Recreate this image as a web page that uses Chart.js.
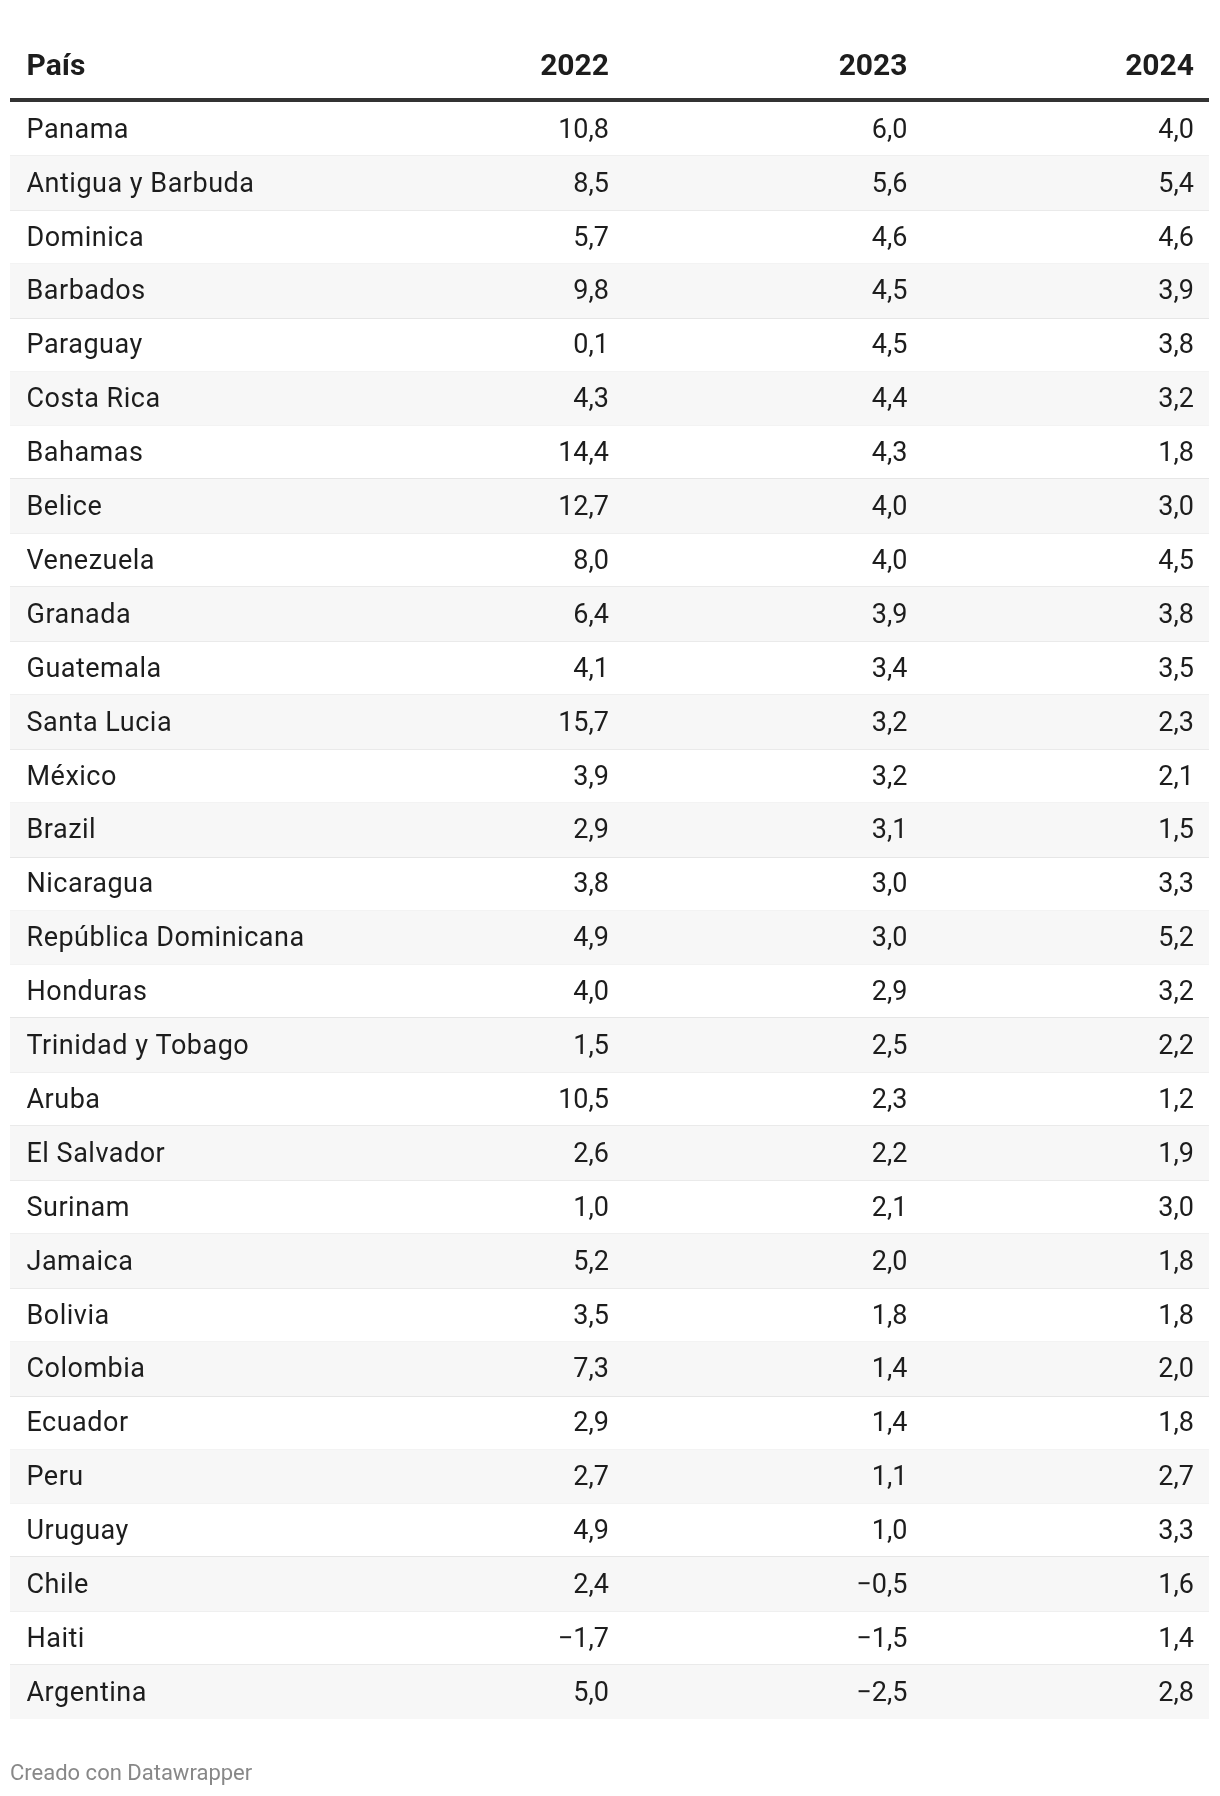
<!DOCTYPE html>
<html>
<head>
<meta charset="utf-8">
<script src="https://cdn.jsdelivr.net/npm/chart.js@4/dist/chart.umd.min.js"></script>
<style>
  html, body { margin: 0; padding: 0; background: #ffffff; }
  #wrap { position: relative; width: 1220px; height: 1796px; }
</style>
</head>
<body>
<div id="wrap"><canvas id="c" width="1220" height="1796"></canvas></div>
<script>
const countries = [
  "Panama", "Antigua y Barbuda", "Dominica", "Barbados", "Paraguay", "Costa Rica",
  "Bahamas", "Belice", "Venezuela", "Granada", "Guatemala", "Santa Lucia",
  "México", "Brazil", "Nicaragua", "República Dominicana", "Honduras",
  "Trinidad y Tobago", "Aruba", "El Salvador", "Surinam", "Jamaica", "Bolivia",
  "Colombia", "Ecuador", "Peru", "Uruguay", "Chile", "Haiti", "Argentina"
];
const years = ["2022", "2023", "2024"];
const firstColumnLabel = "País";
const values2022 = [10.8, 8.5, 5.7, 9.8, 0.1, 4.3, 14.4, 12.7, 8.0, 6.4, 4.1, 15.7, 3.9, 2.9, 3.8, 4.9, 4.0, 1.5, 10.5, 2.6, 1.0, 5.2, 3.5, 7.3, 2.9, 2.7, 4.9, 2.4, -1.7, 5.0];
const values2023 = [6.0, 5.6, 4.6, 4.5, 4.5, 4.4, 4.3, 4.0, 4.0, 3.9, 3.4, 3.2, 3.2, 3.1, 3.0, 3.0, 2.9, 2.5, 2.3, 2.2, 2.1, 2.0, 1.8, 1.4, 1.4, 1.1, 1.0, -0.5, -1.5, -2.5];
const values2024 = [4.0, 5.4, 4.6, 3.9, 3.8, 3.2, 1.8, 3.0, 4.5, 3.8, 3.5, 2.3, 2.1, 1.5, 3.3, 5.2, 3.2, 2.2, 1.2, 1.9, 3.0, 1.8, 1.8, 2.0, 1.8, 2.7, 3.3, 1.6, 1.4, 2.8];
const footerText = "Creado con Datawrapper";

// layout (pixel-equivalent units of the hidden linear x scale)
const TABLE_LEFT = 10, TABLE_RIGHT = 1209;
const COL_TEXT_X = 26.5;
const COL_RIGHT_X = [609, 907.5, 1194];
const FONT = "Roboto, 'Noto Sans', sans-serif";
const valueColumns = [values2022, values2023, values2024];

function fmt(v) {
  return v.toFixed(1).replace('.', ',').replace('-', '\u2212');
}

const tablePlugin = {
  id: 'tableText',
  afterDraw(chart) {
    const ctx = chart.ctx;
    const x = chart.scales.x, y = chart.scales.y;
    ctx.save();
    // header
    ctx.fillStyle = '#1d1d1d';
    ctx.font = "bold 30px " + FONT;
    ctx.textBaseline = 'alphabetic';
    ctx.textAlign = 'left';
    ctx.fillText(firstColumnLabel, x.getPixelForValue(COL_TEXT_X), 74.5);
    ctx.textAlign = 'right';
    years.forEach((yr, j) => ctx.fillText(yr, x.getPixelForValue(COL_RIGHT_X[j]), 74.5));
    // thick header rule
    ctx.fillStyle = '#333333';
    ctx.fillRect(x.getPixelForValue(TABLE_LEFT), y.top - 4, x.getPixelForValue(TABLE_RIGHT) - x.getPixelForValue(TABLE_LEFT), 4);
    // body
    ctx.fillStyle = '#1d1d1d';
    ctx.font = "27px " + FONT;
    countries.forEach((c, i) => {
      const py = y.getPixelForValue(i) + 8.8;
      ctx.textAlign = 'left';
      if ('letterSpacing' in ctx) ctx.letterSpacing = '0.5px';
      ctx.fillText(c, x.getPixelForValue(COL_TEXT_X), py);
      if ('letterSpacing' in ctx) ctx.letterSpacing = '0px';
      ctx.textAlign = 'right';
      valueColumns.forEach((col, j) => ctx.fillText(fmt(col[i]), x.getPixelForValue(COL_RIGHT_X[j]), py));
    });
    // footer
    ctx.fillStyle = '#888888';
    ctx.font = "22px " + FONT;
    ctx.textAlign = 'left';
    ctx.fillText(footerText, 10, 1779.5);
    ctx.restore();
  }
};

new Chart(document.getElementById('c'), {
  type: 'bar',
  data: {
    labels: countries,
    datasets: [{
      label: 'stripes',
      data: countries.map((c, i) => (i % 2 === 1 ? [TABLE_LEFT, TABLE_RIGHT] : null)),
      backgroundColor: '#f7f7f7',
      borderWidth: 0,
      barPercentage: 1,
      categoryPercentage: 1
    }]
  },
  options: {
    indexAxis: 'y',
    responsive: false,
    animation: false,
    events: [],
    layout: { padding: { left: TABLE_LEFT, right: 1220 - TABLE_RIGHT, top: 102, bottom: 77 } },
    plugins: { legend: { display: false }, tooltip: { enabled: false }, title: { display: false } },
    scales: {
      x: { type: 'linear', min: TABLE_LEFT, max: TABLE_RIGHT, display: false },
      y: {
        type: 'category',
        offset: true,
        z: 1,
        ticks: { display: false },
        border: { display: false },
        grid: {
          offset: true,
          drawTicks: false,
          lineWidth: 2,
          color: (ctx) => (ctx.type !== 'tick' || ctx.index === undefined || ctx.index === 0 || ctx.index >= countries.length ? 'rgba(0,0,0,0)' : '#e6e6e6')
        }
      }
    }
  },
  plugins: [tablePlugin]
});
</script>
</body>
</html>
